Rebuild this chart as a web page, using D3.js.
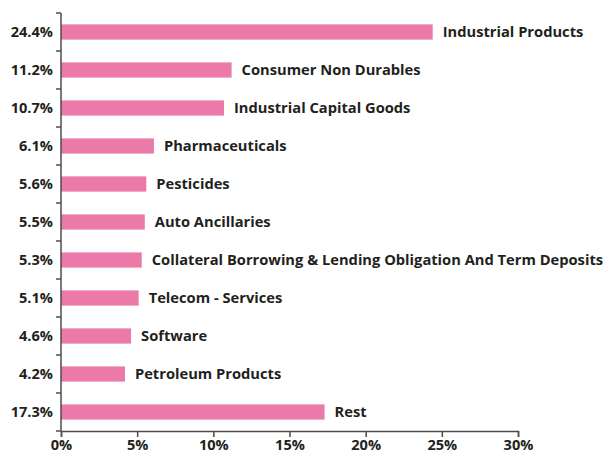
<!DOCTYPE html>
<html>
<head>
<meta charset="utf-8">
<script src="https://cdn.jsdelivr.net/npm/d3@7"></script>
<style>
  body { margin: 0; background: #fff; }
  svg text { font-family: "Open Sans", "DejaVu Sans", sans-serif; font-weight: 700; fill: #231f20; }
</style>
</head>
<body>
<svg id="chart" width="606" height="456"></svg>
<script>
// Sector allocation (% of net assets)
const sectors = [
  "Industrial Products",
  "Consumer Non Durables",
  "Industrial Capital Goods",
  "Pharmaceuticals",
  "Pesticides",
  "Auto Ancillaries",
  "Collateral Borrowing & Lending Obligation And Term Deposits",
  "Telecom - Services",
  "Software",
  "Petroleum Products",
  "Rest"
];
const weights = [24.4, 11.2, 10.7, 6.1, 5.6, 5.5, 5.3, 5.1, 4.6, 4.2, 17.3];
const xTicks = [0, 5, 10, 15, 20, 25, 30];

const svg = d3.select("#chart");
const plotLeft = 61, plotRight = 518, plotTop = 13, plotBottom = 431;

const x = d3.scaleLinear().domain([0, 30]).range([plotLeft, plotRight]);
const y = d3.scaleBand().domain(sectors).range([plotTop, plotBottom]).paddingInner(0.6).paddingOuter(0.3);

const axisColor = "#4d4d4d";

// Bars
svg.append("g").selectAll("rect").data(sectors).join("rect")
  .attr("x", x(0))
  .attr("y", d => y(d))
  .attr("width", (d, i) => x(weights[i]) - x(0))
  .attr("height", y.bandwidth())
  .attr("fill", "#ec7aa8");

// Category names after each bar
svg.append("g").selectAll("text").data(sectors).join("text")
  .attr("x", (d, i) => x(weights[i]) + 10)
  .attr("y", d => y(d) + y.bandwidth() / 2)
  .attr("dy", "0.36em")
  .attr("font-size", 14.7)
  .text(d => d);

// Left axis: percentage labels at band centres
const yAxis = d3.axisLeft(y).tickSize(0).tickPadding(8)
  .tickFormat((d, i) => weights[i].toFixed(1) + "%");
const gy = svg.append("g").attr("transform", `translate(${plotLeft},0)`).call(yAxis);
gy.select(".domain").remove();
gy.selectAll("text").attr("font-size", 14.6).attr("dy", "0.36em").attr("font-family", null).style("font-family", null);

// Left axis line and boundary ticks between bands
const step = y.step();
const bounds = d3.range(sectors.length + 1).map(i => plotTop + i * step);
svg.append("line")
  .attr("x1", plotLeft).attr("x2", plotLeft)
  .attr("y1", plotTop).attr("y2", plotBottom)
  .attr("stroke", axisColor).attr("stroke-width", 1.5);
svg.append("g").selectAll("line").data(bounds).join("line")
  .attr("x1", plotLeft - 5).attr("x2", plotLeft)
  .attr("y1", d => d).attr("y2", d => d)
  .attr("stroke", axisColor).attr("stroke-width", 1.5);

// Bottom axis
const xAxis = d3.axisBottom(x).tickValues(xTicks).tickSize(6).tickPadding(3)
  .tickFormat(d => d + "%");
const gx = svg.append("g").attr("transform", `translate(0,${plotBottom})`).call(xAxis);
gx.select(".domain").attr("stroke", axisColor).attr("stroke-width", 1.5);
gx.selectAll(".tick line").attr("stroke", axisColor).attr("stroke-width", 1.5);
gx.selectAll("text").attr("font-size", 14.6).attr("font-family", null).style("font-family", null);
</script>
</body>
</html>
